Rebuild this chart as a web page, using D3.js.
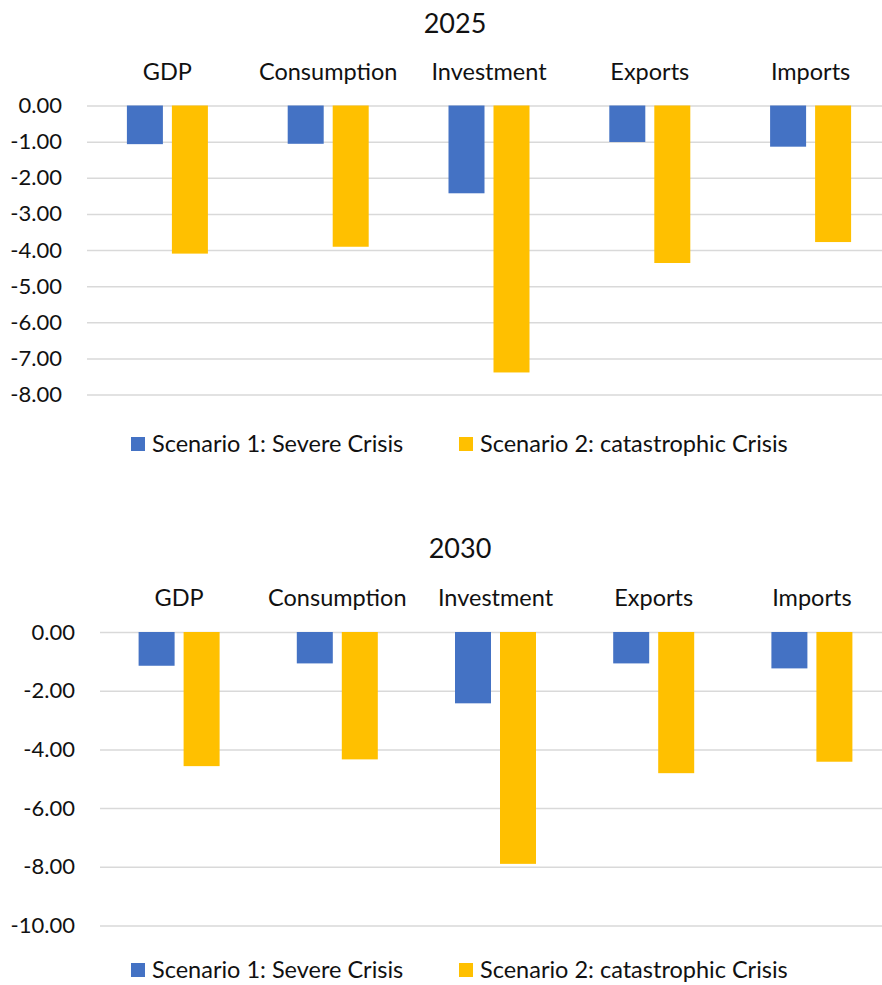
<!DOCTYPE html>
<html>
<head>
<meta charset="utf-8">
<script src="https://cdnjs.cloudflare.com/ajax/libs/d3/7.8.5/d3.min.js"></script>
<style>
  body { margin: 0; background: #fff; }
  svg { display: block; }
  text { font-family: Lato, "Open Sans", sans-serif; fill: #111; }
  .grid line { stroke: #d9d9d9; stroke-width: 1.5; }
  .grid .domain { display: none; }
</style>
</head>
<body>
<div id="chart"></div>
<script>
// Data
var categories = ["GDP", "Consumption", "Investment", "Exports", "Imports"];
var seriesNames = ["Scenario 1: Severe Crisis", "Scenario 2: catastrophic Crisis"];
var seriesColors = ["#4472C4", "#FFC000"];

var severe2025 = [-1.07, -1.06, -2.43, -1.01, -1.14];
var catastrophic2025 = [-4.10, -3.91, -7.39, -4.36, -3.78];
var ticks2025 = [0, -1, -2, -3, -4, -5, -6, -7, -8];

var severe2030 = [-1.15, -1.07, -2.43, -1.07, -1.24];
var catastrophic2030 = [-4.57, -4.34, -7.90, -4.81, -4.42];
var ticks2030 = [0, -2, -4, -6, -8, -10];

var svgWidth = 882;
var svgHeight = 985;

var svg = d3.select("#chart")
  .append("svg")
  .attr("width", svgWidth)
  .attr("height", svgHeight);

// draws one panel (title, category labels, grid, bars, legend)
function drawPanel(opts) {
  var g = svg.append("g");

  var x0 = d3.scaleBand()
    .domain(categories)
    .range([opts.left, opts.right]);

  // two bars of 36px with a 9px gap, centred in each band
  var x1 = d3.scaleBand()
    .domain([0, 1])
    .range([x0.bandwidth() / 2 - 40.5, x0.bandwidth() / 2 + 40.5])
    .paddingInner(0.2);

  var y = d3.scaleLinear()
    .domain([0, d3.min(opts.ticks)])
    .range([opts.top, opts.bottom]);

  // title
  g.append("text")
    .attr("x", opts.titleX)
    .attr("y", opts.titleY)
    .attr("text-anchor", "middle")
    .style("font-size", "27px")
    .text(opts.title);

  // category labels on top
  g.selectAll(".cat")
    .data(categories)
    .enter()
    .append("text")
    .attr("x", d => x0(d) + x0.bandwidth() / 2)
    .attr("y", opts.catY)
    .attr("text-anchor", "middle")
    .style("font-size", "23.5px")
    .text(d => d);

  // gridlines + tick labels
  var yAxis = d3.axisLeft(y)
    .tickValues(opts.ticks)
    .tickSize(-(opts.right - opts.left))
    .tickPadding(opts.tickPad)
    .tickFormat(d => d.toFixed(2));

  var axisG = g.append("g")
    .attr("class", "grid")
    .attr("transform", `translate(${opts.left}, 0)`)
    .call(yAxis);

  axisG.selectAll("text")
    .style("font-size", "22px")
    .style("fill", "#111");

  // bars
  var rows = categories.map((c, i) => ({ cat: c, vals: [opts.s1[i], opts.s2[i]] }));

  var groups = g.selectAll(".grp")
    .data(rows)
    .enter()
    .append("g")
    .attr("transform", d => `translate(${x0(d.cat)}, 0)`);

  groups.selectAll("rect")
    .data(d => d.vals.map((v, k) => ({ k: k, v: v })))
    .enter()
    .append("rect")
    .attr("x", d => x1(d.k))
    .attr("width", x1.bandwidth())
    .attr("y", y(0))
    .attr("height", d => y(d.v) - y(0))
    .attr("fill", d => seriesColors[d.k]);

  // legend
  var legendX = [131, 459];
  var legend = g.selectAll(".leg")
    .data(seriesNames)
    .enter()
    .append("g")
    .attr("transform", (d, i) => `translate(${legendX[i]}, ${opts.legendY})`);

  legend.append("rect")
    .attr("x", 0)
    .attr("y", -7)
    .attr("width", 14)
    .attr("height", 14)
    .attr("fill", (d, i) => seriesColors[i]);

  legend.append("text")
    .attr("x", 21)
    .attr("y", 0)
    .attr("dy", "0.35em")
    .style("font-size", "23.5px")
    .text(d => d);
}

drawPanel({
  title: "2025", titleX: 455, titleY: 33, catY: 80,
  left: 87, right: 891, top: 105.5, bottom: 394.5,
  ticks: ticks2025, tickPad: 25,
  s1: severe2025, s2: catastrophic2025,
  legendY: 444
});

drawPanel({
  title: "2030", titleX: 460, titleY: 558, catY: 606,
  left: 100, right: 891, top: 632, bottom: 925.5,
  ticks: ticks2030, tickPad: 25,
  s1: severe2030, s2: catastrophic2030,
  legendY: 970
});
</script>
</body>
</html>
